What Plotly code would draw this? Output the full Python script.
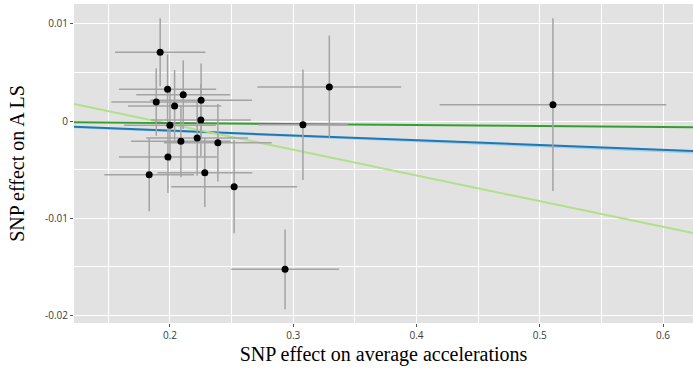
import plotly.graph_objects as go

# SNP effects (exposure = average accelerations, outcome = ALS)
snp_x = [0.1921, 0.1981, 0.2108, 0.1889, 0.2253, 0.2038, 0.2251, 0.2000, 0.2221, 0.2089,
         0.2389, 0.1984, 0.1832, 0.2283, 0.2521, 0.2934, 0.3079, 0.3293, 0.5107]
snp_y = [0.00708, 0.00327, 0.00271, 0.00196, 0.00213, 0.00155, 0.00010, -0.00044, -0.00175, -0.00209,
         -0.00224, -0.00371, -0.00554, -0.00533, -0.00677, -0.01529, -0.00038, 0.00351, 0.00168]
se_x = [0.0367, 0.0394, 0.0381, 0.0364, 0.0413, 0.0378, 0.0405, 0.0372, 0.0413, 0.0405,
        0.0437, 0.0397, 0.0364, 0.0385, 0.0510, 0.0437, 0.0364, 0.0583, 0.0919]
se_y = [0.0035, 0.0036, 0.00354, 0.00347, 0.0038, 0.0037, 0.0037, 0.0037, 0.0039, 0.0037,
        0.0040, 0.0037, 0.00376, 0.00354, 0.0048, 0.0041, 0.0057, 0.0053, 0.0089]

# MR method fits: y = intercept + slope * x
method_names = ["Simple mode", "Inverse variance weighted", "MR Egger", "Weighted median"]
method_intercepts = [0.0, 0.0, 0.0050, 0.0]
method_slopes = [-0.0052, -0.00495, -0.02652, -0.00104]
method_colors = ["#a6cee3", "#1f78b4", "#b2df8a", "#33a02c"]

x_range = [0.1222, 0.6243]
y_range = [-0.02082, 0.01206]

fig = go.Figure()

for name, a, b, c in zip(method_names, method_intercepts, method_slopes, method_colors):
    xs = x_range
    ys = [a + b * xv for xv in xs]
    fig.add_trace(go.Scatter(x=xs, y=ys, mode="lines", name=name,
                             line=dict(color=c, width=2), showlegend=False))

fig.add_trace(go.Scatter(
    x=snp_x, y=snp_y, mode="markers",
    marker=dict(color="black", size=7),
    error_x=dict(type="data", array=se_x, color="#a3a3a3", thickness=1.5, width=0),
    error_y=dict(type="data", array=se_y, color="#a3a3a3", thickness=1.5, width=0),
    showlegend=False,
))

tick_font = dict(family="Open Sans, Liberation Sans, sans-serif", size=10, color="#3a3a3a")
title_font = dict(family="Liberation Serif, Times New Roman, serif", size=20, color="black")

fig.update_layout(
    width=693, height=380,
    margin=dict(l=74, r=0, t=4, b=57),
    paper_bgcolor="white",
    plot_bgcolor="#e2e2e2",
    showlegend=False,
)
fig.update_xaxes(
    range=x_range, tickvals=[0.2, 0.3, 0.4, 0.5, 0.6], ticktext=["0.2", "0.3", "0.4", "0.5", "0.6"],
    showgrid=True, gridcolor="white", gridwidth=1.2, zeroline=False,
    minor=dict(tickvals=[0.15, 0.25, 0.35, 0.45, 0.55], showgrid=True, gridcolor="white", gridwidth=0.6, ticks=""),
    ticks="outside", ticklen=3, tickcolor="#555555", tickwidth=1,
    tickfont=tick_font,
    title=dict(text="SNP effect on average accelerations", font=title_font, standoff=5),
)
fig.update_yaxes(
    range=y_range, tickvals=[0.01, 0, -0.01, -0.02], ticktext=["0.01", "0", "-0.01", "-0.02"],
    showgrid=True, gridcolor="white", gridwidth=1.2, zeroline=False,
    minor=dict(tickvals=[0.005, -0.005, -0.015], showgrid=True, gridcolor="white", gridwidth=0.6, ticks=""),
    ticks="outside", ticklen=3, tickcolor="#555555", tickwidth=1,
    tickfont=tick_font,
    title=dict(text="SNP effect on A LS", font=title_font, standoff=15),
)

fig.write_html("out.html")
